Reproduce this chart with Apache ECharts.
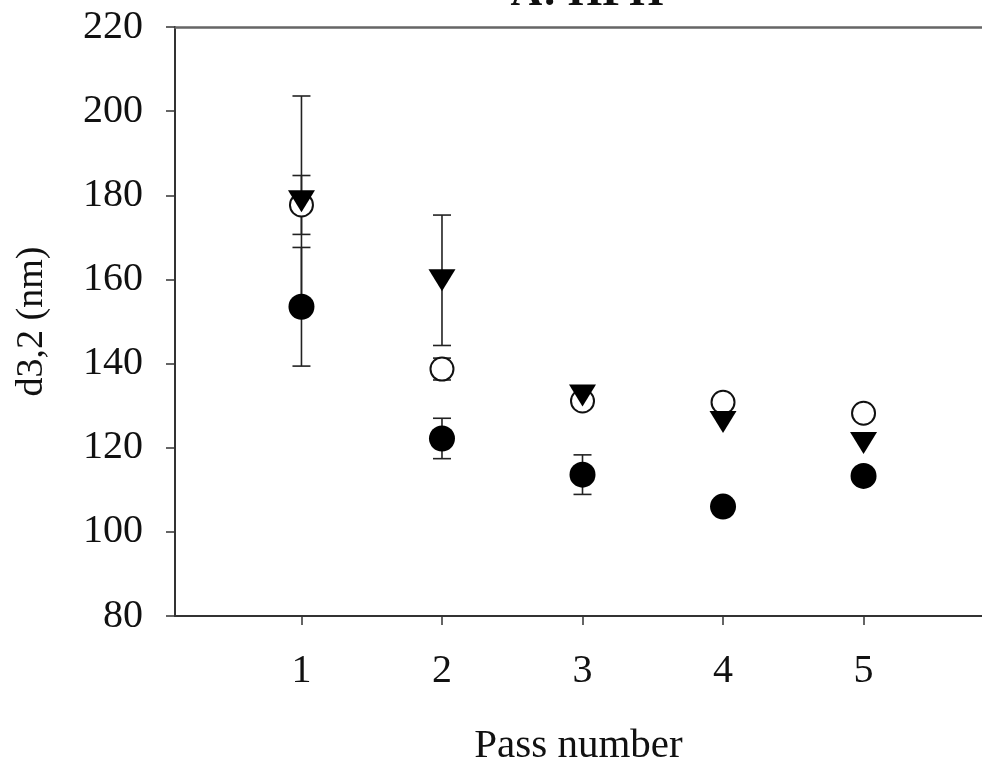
<!DOCTYPE html>
<html>
<head>
<meta charset="utf-8">
<script src="https://cdn.jsdelivr.net/npm/echarts@6/dist/echarts.min.js"></script>
<style>html,body{margin:0;padding:0;background:#fff}#c{width:982px;height:764px}</style>
</head>
<body>
<div id="c"></div>
<script>
var passes = [1, 2, 3, 4, 5];
var filledMean = [153.5, 122.2, 113.6, 106.0, 113.3];
var filledErr  = [14.1, 4.8, 4.7, null, null];
var openMean   = [177.7, 138.7, 131.1, 130.8, 128.2];
var openErr    = [7.0, 2.6, null, null, null];
var triMean    = [178.6, 159.8, 132.4, 126.1, 121.1];
var triErr     = [25.0, 15.5, null, null, null];
var yTicks = [80, 100, 120, 140, 160, 180, 200, 220];
var titleText = 'A: HPH';
var xName = 'Pass number';
var yName = 'd3,2 (nm)';

function pts(mean) { return passes.map(function (p, i) { return [p, mean[i]]; }); }
function errPts(mean, err) {
  var out = [];
  passes.forEach(function (p, i) { if (err[i] != null) out.push([p, mean[i], err[i]]); });
  return out;
}
function errSeries(mean, err) {
  return {
    type: 'custom',
    z: 1,
    data: errPts(mean, err),
    renderItem: function (params, api) {
      var x = api.value(0), m = api.value(1), e = api.value(2);
      var top = api.coord([x, m + e]);
      var bot = api.coord([x, m - e]);
      var hw = 9;
      var st = { stroke: '#222', lineWidth: 1.6 };
      return {
        type: 'group',
        children: [
          { type: 'line', shape: { x1: top[0], y1: top[1], x2: bot[0], y2: bot[1] }, style: st },
          { type: 'line', shape: { x1: top[0] - hw, y1: top[1], x2: top[0] + hw, y2: top[1] }, style: st },
          { type: 'line', shape: { x1: bot[0] - hw, y1: bot[1], x2: bot[0] + hw, y2: bot[1] }, style: st }
        ]
      };
    }
  };
}

var font = 'Liberation Serif, Times New Roman, serif';
var chart = echarts.init(document.getElementById('c'), null, { renderer: 'canvas' });
chart.setOption({
  animation: false,
  backgroundColor: '#fff',
  title: {
    text: titleText,
    left: 582, textAlign: 'center',
    top: -33,
    textStyle: { fontFamily: font, fontWeight: 'bold', fontSize: 44, color: '#111' }
  },
  grid: { left: 175, right: 0, top: 27, bottom: 148, containLabel: false, outerBoundsMode: 'none' },
  xAxis: [{
    type: 'value', min: 0.1, max: 5.843,
    name: xName, nameLocation: 'middle', nameGap: 110,
    nameTextStyle: { fontFamily: font, fontSize: 41, color: '#111' },
    axisLine: { show: true, onZero: false, lineStyle: { color: '#333', width: 2 } },
    axisTick: { show: true, customValues: passes, length: 9, lineStyle: { color: '#333', width: 1.5 } },
    axisLabel: { customValues: passes, margin: 35, fontFamily: font, fontSize: 40, color: '#111' },
    splitLine: { show: false }
  }, {
    type: 'value', position: 'top', min: 0.1, max: 5.843,
    axisLine: { show: true, onZero: false, lineStyle: { color: '#666', width: 2.5 } },
    axisTick: { show: false }, axisLabel: { show: false }, splitLine: { show: false }
  }],
  yAxis: {
    type: 'value', min: yTicks[0], max: yTicks[yTicks.length - 1], interval: 20,
    name: yName, nameLocation: 'middle', nameGap: 124,
    nameTextStyle: { fontFamily: font, fontSize: 38, color: '#111' },
    axisLine: { show: true, lineStyle: { color: '#333', width: 2 } },
    axisTick: { show: true, length: 9, lineStyle: { color: '#333', width: 1.5 } },
    axisLabel: { margin: 32, fontFamily: font, fontSize: 40, color: '#111' },
    splitLine: { show: false }
  },
  series: [
    errSeries(triMean, triErr),
    errSeries(openMean, openErr),
    errSeries(filledMean, filledErr),
    {
      type: 'scatter', z: 2, data: pts(openMean), symbol: 'circle', symbolSize: 23,
      itemStyle: { color: '#fff', borderColor: '#111', borderWidth: 2, opacity: 1 }
    },
    {
      type: 'scatter', z: 3, data: pts(triMean), symbol: 'triangle', symbolRotate: 180, symbolSize: [27, 22],
      itemStyle: { color: '#000', opacity: 1 }
    },
    {
      type: 'scatter', z: 4, data: pts(filledMean), symbol: 'circle', symbolSize: 26,
      itemStyle: { color: '#000', opacity: 1 }
    }
  ]
});
</script>
</body>
</html>
